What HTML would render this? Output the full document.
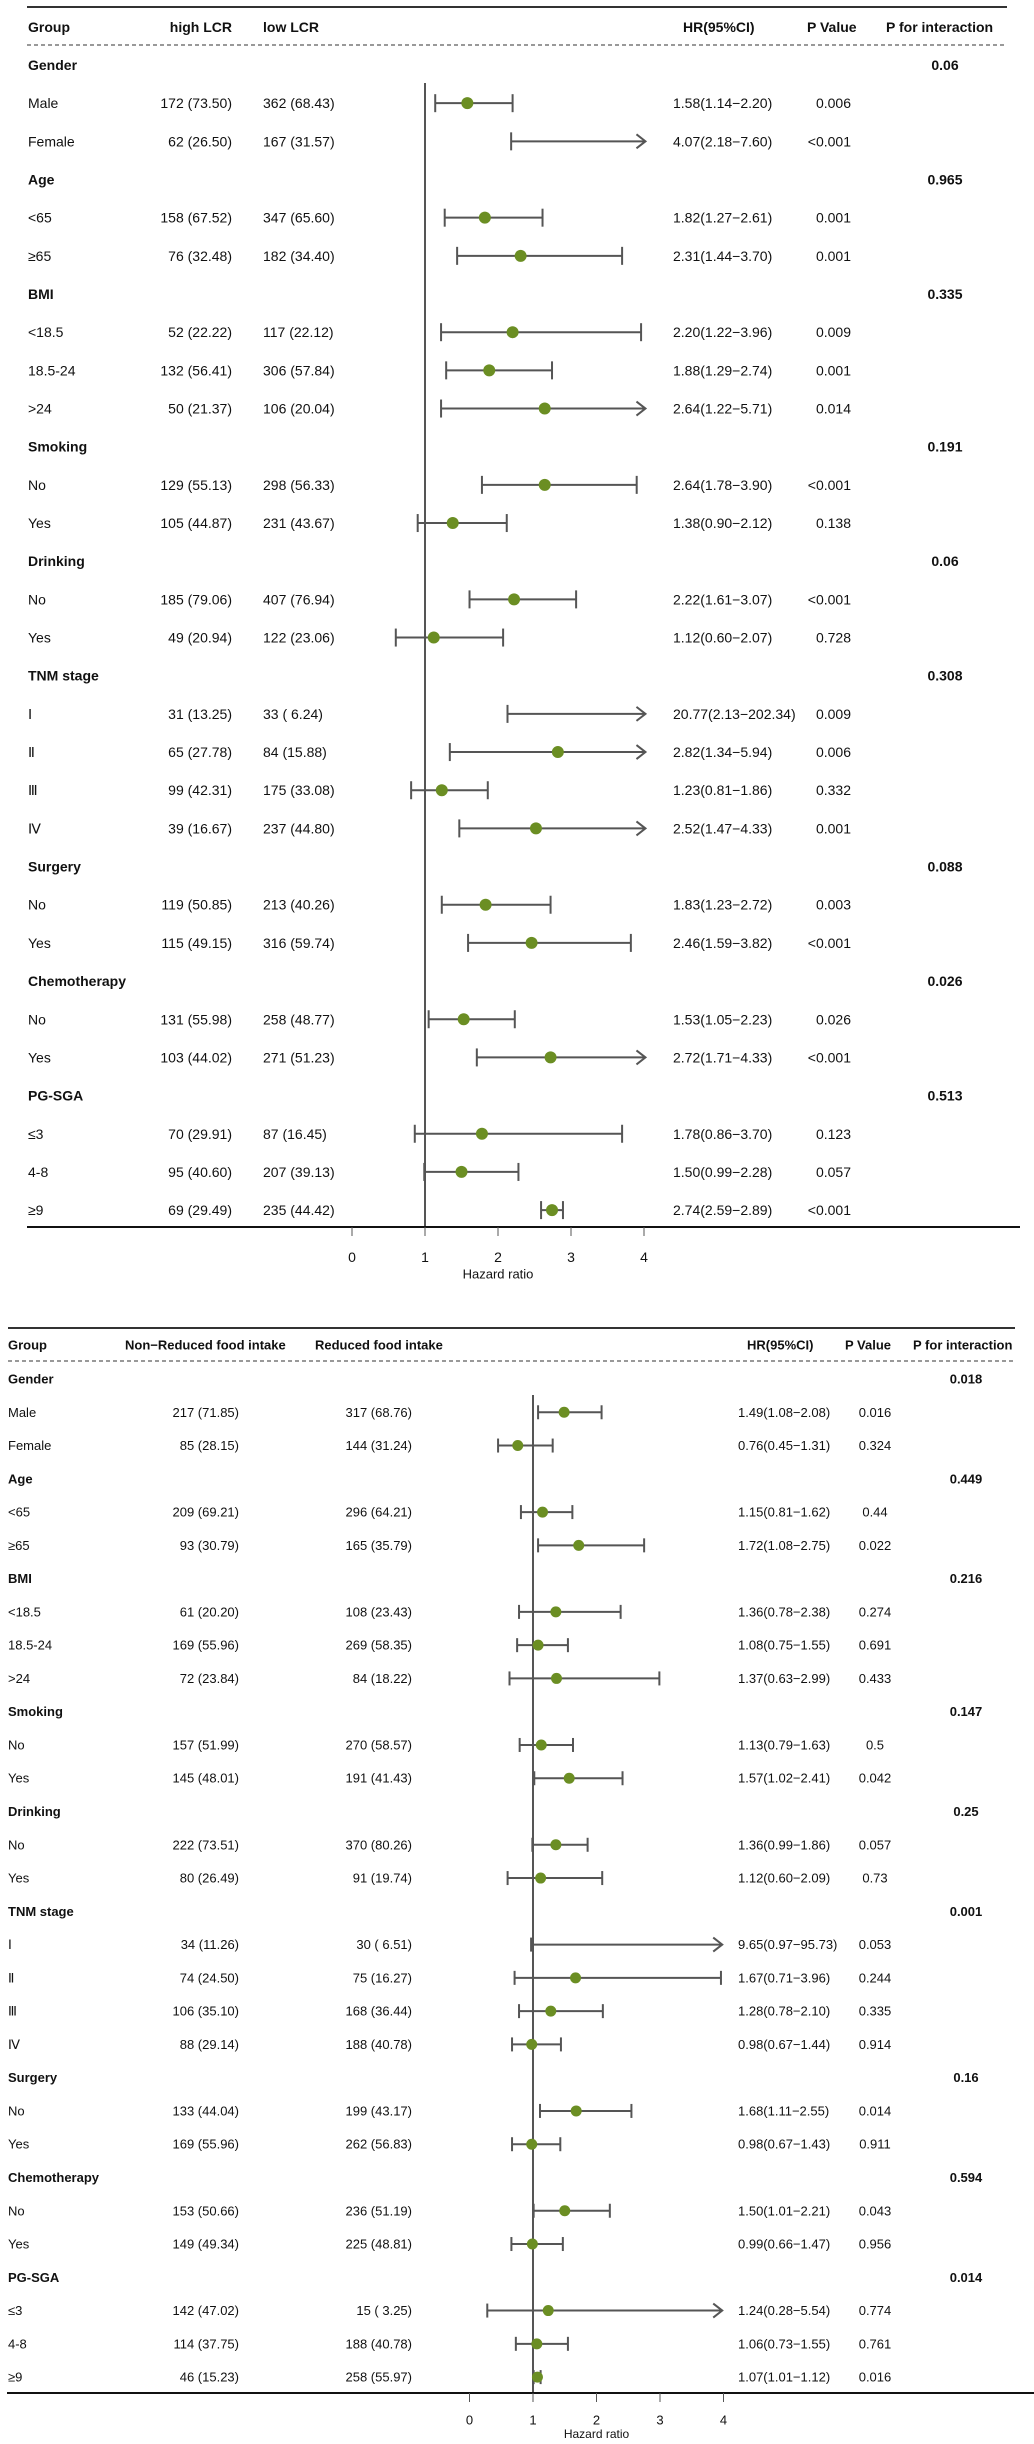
<!DOCTYPE html>
<html><head><meta charset="utf-8"><style>
html,body{margin:0;padding:0;background:#fff}
svg{display:block;font-family:"Liberation Sans",Arial,sans-serif}
</style></head><body>
<svg id="chart" width="1034" height="2444" viewBox="0 0 1034 2444"></svg>
<script>
// ---- Panel 1 data (LCR) ----
const labels1 = ["Gender","Male","Female","Age","<65","≥65","BMI","<18.5","18.5-24",">24","Smoking","No","Yes","Drinking","No","Yes","TNM stage","Ⅰ","Ⅱ","Ⅲ","Ⅳ","Surgery","No","Yes","Chemotherapy","No","Yes","PG-SGA","≤3","4-8","≥9"];
const colA1 = ["","172 (73.50)","62 (26.50)","","158 (67.52)","76 (32.48)","","52 (22.22)","132 (56.41)","50 (21.37)","","129 (55.13)","105 (44.87)","","185 (79.06)","49 (20.94)","","31 (13.25)","65 (27.78)","99 (42.31)","39 (16.67)","","119 (50.85)","115 (49.15)","","131 (55.98)","103 (44.02)","","70 (29.91)","95 (40.60)","69 (29.49)"];
const colB1 = ["","362 (68.43)","167 (31.57)","","347 (65.60)","182 (34.40)","","117 (22.12)","306 (57.84)","106 (20.04)","","298 (56.33)","231 (43.67)","","407 (76.94)","122 (23.06)","","33 ( 6.24)","84 (15.88)","175 (33.08)","237 (44.80)","","213 (40.26)","316 (59.74)","","258 (48.77)","271 (51.23)","","87 (16.45)","207 (39.13)","235 (44.42)"];
const hr1 = [null,1.58,4.07,null,1.82,2.31,null,2.20,1.88,2.64,null,2.64,1.38,null,2.22,1.12,null,20.77,2.82,1.23,2.52,null,1.83,2.46,null,1.53,2.72,null,1.78,1.50,2.74];
const lo1 = [null,1.14,2.18,null,1.27,1.44,null,1.22,1.29,1.22,null,1.78,0.90,null,1.61,0.60,null,2.13,1.34,0.81,1.47,null,1.23,1.59,null,1.05,1.71,null,0.86,0.99,2.59];
const hi1 = [null,2.20,7.60,null,2.61,3.70,null,3.96,2.74,5.71,null,3.90,2.12,null,3.07,2.07,null,202.34,5.94,1.86,4.33,null,2.72,3.82,null,2.23,4.33,null,3.70,2.28,2.89];
const hrText1 = ["","1.58(1.14−2.20)","4.07(2.18−7.60)","","1.82(1.27−2.61)","2.31(1.44−3.70)","","2.20(1.22−3.96)","1.88(1.29−2.74)","2.64(1.22−5.71)","","2.64(1.78−3.90)","1.38(0.90−2.12)","","2.22(1.61−3.07)","1.12(0.60−2.07)","","20.77(2.13−202.34)","2.82(1.34−5.94)","1.23(0.81−1.86)","2.52(1.47−4.33)","","1.83(1.23−2.72)","2.46(1.59−3.82)","","1.53(1.05−2.23)","2.72(1.71−4.33)","","1.78(0.86−3.70)","1.50(0.99−2.28)","2.74(2.59−2.89)"];
const pval1 = ["","0.006","<0.001","","0.001","0.001","","0.009","0.001","0.014","","<0.001","0.138","","<0.001","0.728","","0.009","0.006","0.332","0.001","","0.003","<0.001","","0.026","<0.001","","0.123","0.057","<0.001"];
const pint1 = ["0.06","","","0.965","","","0.335","","","","0.191","","","0.06","","","0.308","","","","","0.088","","","0.026","","","0.513","","",""];
// ---- Panel 2 data (food intake) ----
const labels2 = labels1;
const colA2 = ["","217 (71.85)","85 (28.15)","","209 (69.21)","93 (30.79)","","61 (20.20)","169 (55.96)","72 (23.84)","","157 (51.99)","145 (48.01)","","222 (73.51)","80 (26.49)","","34 (11.26)","74 (24.50)","106 (35.10)","88 (29.14)","","133 (44.04)","169 (55.96)","","153 (50.66)","149 (49.34)","","142 (47.02)","114 (37.75)","46 (15.23)"];
const colB2 = ["","317 (68.76)","144 (31.24)","","296 (64.21)","165 (35.79)","","108 (23.43)","269 (58.35)","84 (18.22)","","270 (58.57)","191 (41.43)","","370 (80.26)","91 (19.74)","","30 ( 6.51)","75 (16.27)","168 (36.44)","188 (40.78)","","199 (43.17)","262 (56.83)","","236 (51.19)","225 (48.81)","","15 ( 3.25)","188 (40.78)","258 (55.97)"];
const hr2 = [null,1.49,0.76,null,1.15,1.72,null,1.36,1.08,1.37,null,1.13,1.57,null,1.36,1.12,null,9.65,1.67,1.28,0.98,null,1.68,0.98,null,1.50,0.99,null,1.24,1.06,1.07];
const lo2 = [null,1.08,0.45,null,0.81,1.08,null,0.78,0.75,0.63,null,0.79,1.02,null,0.99,0.60,null,0.97,0.71,0.78,0.67,null,1.11,0.67,null,1.01,0.66,null,0.28,0.73,1.01];
const hi2 = [null,2.08,1.31,null,1.62,2.75,null,2.38,1.55,2.99,null,1.63,2.41,null,1.86,2.09,null,95.73,3.96,2.10,1.44,null,2.55,1.43,null,2.21,1.47,null,5.54,1.55,1.12];
const hrText2 = ["","1.49(1.08−2.08)","0.76(0.45−1.31)","","1.15(0.81−1.62)","1.72(1.08−2.75)","","1.36(0.78−2.38)","1.08(0.75−1.55)","1.37(0.63−2.99)","","1.13(0.79−1.63)","1.57(1.02−2.41)","","1.36(0.99−1.86)","1.12(0.60−2.09)","","9.65(0.97−95.73)","1.67(0.71−3.96)","1.28(0.78−2.10)","0.98(0.67−1.44)","","1.68(1.11−2.55)","0.98(0.67−1.43)","","1.50(1.01−2.21)","0.99(0.66−1.47)","","1.24(0.28−5.54)","1.06(0.73−1.55)","1.07(1.01−1.12)"];
const pval2 = ["","0.016","0.324","","0.44","0.022","","0.274","0.691","0.433","","0.5","0.042","","0.057","0.73","","0.053","0.244","0.335","0.914","","0.014","0.911","","0.043","0.956","","0.774","0.761","0.016"];
const pint2 = ["0.018","","","0.449","","","0.216","","","","0.147","","","0.25","","","0.001","","","","","0.16","","","0.594","","","0.014","","",""];
const ticks = [0,1,2,3,4];
const headers1 = ["Group","high LCR","low LCR","HR(95%CI)","P Value","P for interaction"];
const headers2 = ["Group","Non−Reduced food intake","Reduced food intake","HR(95%CI)","P Value","P for interaction"];

const NS = "http://www.w3.org/2000/svg";
const svg = document.getElementById('chart');
function mk(tag, attrs, parent){
  const e = document.createElementNS(NS, tag);
  for (const k in attrs) e.setAttribute(k, attrs[k]);
  (parent||svg).appendChild(e); return e;
}
function txt(s, x, y, size, anchor, weight, parent){
  const t = mk('text', {x:x, y:y, 'font-size':size, 'text-anchor':anchor, 'dominant-baseline':'central', fill:'#111', 'font-weight':weight}, parent);
  t.textContent = s; return t;
}

function panel(cfg){
  const g = mk('g', {});
  
  
  const xs = v => cfg.x1 + (v - 1) * cfg.unit;
  const ys = i => cfg.row0 + i * cfg.step;
  const xmax = cfg.xmaxVal;
  const tl = mk('line', {x1:cfg.lineL, x2:cfg.lineR, y1:cfg.topY, y2:cfg.topY, stroke:'#333', 'stroke-width':2}, g);
  
  
  const dl = mk('line', {x1:cfg.lineL, x2:cfg.lineR, y1:cfg.dashY, y2:cfg.dashY, stroke:'#333', 'stroke-width':1, 'stroke-dasharray':'4,3'}, g);
  
  
  const hdr = cfg.headers;
  const hx = cfg.headerX, ha = cfg.headerAnchor;
  for (let k = 0; k < hdr.length; k++){
    const t = txt(hdr[k], hx[k], cfg.headY, cfg.hsize, ha[k], 'bold', g);
    
    
  }
  const rl = mk('line', {x1:xs(1), x2:xs(1), y1:cfg.refTop, y2:cfg.axisY, stroke:'#555', 'stroke-width':2}, g);
  
  
  for (let i = 0; i < cfg.labels.length; i++){
    const y = ys(i);
    const isCat = cfg.hr[i] === null;
    const lt = txt(cfg.labels[i], cfg.labelX, y, isCat ? cfg.hsize : cfg.size, 'start', isCat ? 'bold' : 'normal', g);
    
    
    if (cfg.colA[i]) { const t = txt(cfg.colA[i], cfg.colAX, y, cfg.size, cfg.colAAnchor, 'normal', g);
        }
    if (cfg.colB[i]) { const t = txt(cfg.colB[i], cfg.colBX, y, cfg.size, cfg.colBAnchor, 'normal', g);
        }
    if (cfg.hrText[i]) { const t = txt(cfg.hrText[i], cfg.hrX, y, cfg.size, 'start', 'normal', g);
        }
    if (cfg.pval[i]) { const t = txt(cfg.pval[i], cfg.pX, y, cfg.size, cfg.pAnchor, 'normal', g);
        }
    if (cfg.pint[i]) { const t = txt(cfg.pint[i], cfg.piX, y, cfg.hsize, 'middle', 'bold', g);
        }
    if (!isCat){
      const lo = cfg.lo[i], hi = cfg.hi[i], h = cfg.hr[i];
      const xl = xs(lo);
      const clipped = hi > xmax;
      const xr = clipped ? xs(xmax) : xs(hi);
      const ci = mk('line', {x1:xl, x2:xr, y1:y, y2:y, stroke:'#555', 'stroke-width':2}, g);
      
      
      const c1 = mk('line', {x1:xl, x2:xl, y1:y-cfg.cap, y2:y+cfg.cap, stroke:'#555', 'stroke-width':2}, g);
      
      
      if (clipped){
        const ar = mk('polyline', {points:(xr-9)+','+(y-7)+' '+xr+','+y+' '+(xr-9)+','+(y+7), fill:'none', stroke:'#555', 'stroke-width':2}, g);
        
        
      } else {
        const c2 = mk('line', {x1:xr, x2:xr, y1:y-cfg.cap, y2:y+cfg.cap, stroke:'#555', 'stroke-width':2}, g);
        
        
      }
      if (h <= xmax){
        const pt = mk('circle', {cx:xs(h), cy:y, r:cfg.r, fill:'#6b8e23'}, g);
        
        
      }
    }
  }
  const ax = mk('line', {x1:cfg.axisL, x2:cfg.axisR, y1:cfg.axisY, y2:cfg.axisY, stroke:'#111', 'stroke-width':2}, g);
  
  
  for (const v of ticks){
    const tk = mk('line', {x1:xs(v), x2:xs(v), y1:cfg.axisY, y2:cfg.axisY+9, stroke:'#555', 'stroke-width':1}, g);
    
    
    const tl2 = txt(String(v), xs(v), cfg.tickLabelY, cfg.size, 'middle', 'normal', g);
    
    
  }
  const at = txt('Hazard ratio', (xs(0)+xs(4))/2, cfg.titleY, cfg.size-1, 'middle', 'normal', g);
  
  
}

panel({name:'forest-plot-lcr', labels:labels1, colA:colA1, colB:colB1, hr:hr1, lo:lo1, hi:hi1, hrText:hrText1, pval:pval1, pint:pint1,
  headers:headers1, headerX:[28,232,263,683,807,886], headerAnchor:['start','end','start','start','start','start'],
  x1:425, unit:73, xmaxVal:4.02, row0:65, step:38.17, topY:7, dashY:45, headY:27, lineL:27, lineR:1007,
  refTop:83, axisY:1227, axisL:27, axisR:1020, tickLabelY:1257, titleY:1274,
  labelX:28, colAX:232, colAAnchor:'end', colBX:263, colBAnchor:'start', hrX:673, pX:851, pAnchor:'end', piX:945,
  size:14, hsize:14, cap:9, r:6});

panel({name:'forest-plot-food-intake', labels:labels2, colA:colA2, colB:colB2, hr:hr2, lo:lo2, hi:hi2, hrText:hrText2, pval:pval2, pint:pint2,
  headers:headers2, headerX:[8,125,315,747,845,913], headerAnchor:['start','start','start','start','start','start'],
  x1:533, unit:63.5, xmaxVal:3.98, row0:1379, step:33.27, topY:1328, dashY:1361, headY:1345, lineL:8, lineR:1015,
  refTop:1395, axisY:2393, axisL:7, axisR:1034, tickLabelY:2420, titleY:2434,
  labelX:8, colAX:239, colAAnchor:'end', colBX:412, colBAnchor:'end', hrX:738, pX:875, pAnchor:'middle', piX:966,
  size:13, hsize:13, cap:7, r:5.5});
</script>
</body></html>
